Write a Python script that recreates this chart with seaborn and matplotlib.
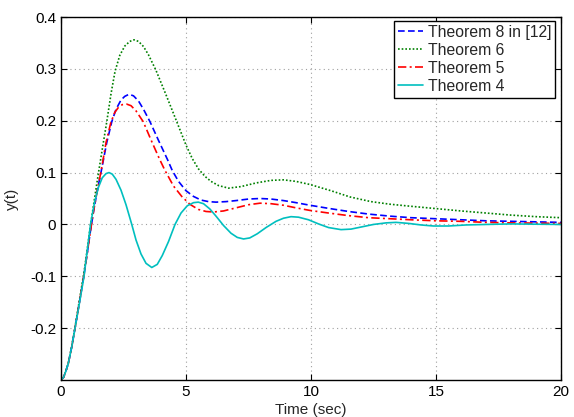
import matplotlib
matplotlib.use("Agg")
import matplotlib.pyplot as plt
import seaborn as sns
import pandas as pd

# ---- data ----
t_thm8 = [0, 0.1, 0.2, 0.29, 0.43, 0.56, 0.75, 0.92, 1.05, 1.17, 1.3, 1.45, 1.63, 1.83, 2.03,
          2.2, 2.4, 2.55, 2.72, 2.9, 3.1, 3.3, 3.56, 3.9, 4.26, 4.45, 4.7, 5.0, 5.3, 5.6, 5.9,
          6.2, 6.6, 7.0, 7.5, 7.96, 8.4, 8.9, 9.4, 9.96, 10.7, 11.5, 12.3, 13.16, 14, 15, 16,
          17, 18, 19, 20]
y_thm8 = [-0.3, -0.295, -0.282, -0.268, -0.236, -0.2, -0.146, -0.097, -0.055, -0.015, 0.025,
          0.065, 0.108, 0.158, 0.198, 0.222, 0.240, 0.247, 0.251, 0.248, 0.238, 0.222, 0.198,
          0.162, 0.125, 0.104, 0.083, 0.065, 0.054, 0.047, 0.044, 0.043, 0.044, 0.046, 0.049,
          0.05, 0.049, 0.046, 0.042, 0.037, 0.031, 0.025, 0.02, 0.016, 0.013, 0.011, 0.009,
          0.007, 0.006, 0.005, 0.004]

t_thm6 = [0, 0.1, 0.2, 0.29, 0.43, 0.56, 0.75, 0.92, 1.05, 1.17, 1.3, 1.5, 1.66, 1.83, 2.0,
          2.16, 2.35, 2.55, 2.75, 2.92, 3.1, 3.3, 3.5, 3.8, 4.2, 4.63, 5.0, 5.25, 5.5, 5.75,
          6.0, 6.3, 6.7, 7.2, 7.8, 8.4, 8.9, 9.4, 9.96, 10.8, 11.56, 12.4, 13.16, 14, 14.9,
          16, 17, 18, 19, 20]
y_thm6 = [-0.3, -0.295, -0.282, -0.268, -0.235, -0.198, -0.142, -0.092, -0.048, -0.005,
          0.037, 0.1, 0.148, 0.198, 0.252, 0.295, 0.326, 0.344, 0.353, 0.356, 0.353, 0.343,
          0.327, 0.297, 0.25, 0.198, 0.153, 0.127, 0.107, 0.093, 0.083, 0.075, 0.07, 0.073,
          0.08, 0.085, 0.086, 0.083, 0.077, 0.065, 0.053, 0.044, 0.039, 0.035, 0.031, 0.026,
          0.022, 0.018, 0.015, 0.013]

t_thm5 = [0, 0.1, 0.2, 0.29, 0.43, 0.56, 0.75, 0.92, 1.05, 1.17, 1.3, 1.45, 1.63, 1.8, 1.99,
          2.15, 2.3, 2.45, 2.63, 2.8, 3.0, 3.29, 3.6, 3.94, 4.16, 4.5, 4.83, 5.15, 5.49, 5.8,
          6.1, 6.5, 7.0, 7.5, 7.96, 8.4, 8.9, 9.4, 9.96, 10.7, 11.5, 12.3, 13.16, 14, 15, 16,
          17, 18, 19, 20]
y_thm5 = [-0.3, -0.295, -0.282, -0.268, -0.236, -0.2, -0.146, -0.097, -0.055, -0.015, 0.025,
          0.065, 0.11, 0.158, 0.196, 0.216, 0.226, 0.231, 0.232, 0.229, 0.219, 0.198, 0.163,
          0.126, 0.104, 0.074, 0.054, 0.039, 0.029, 0.025, 0.024, 0.026, 0.032, 0.038, 0.041,
          0.04, 0.037, 0.032, 0.027, 0.022, 0.017, 0.013, 0.011, 0.009, 0.007, 0.006, 0.004,
          0.003, 0.0025, 0.002]

t_thm4 = [0, 0.1, 0.2, 0.29, 0.43, 0.56, 0.75, 0.92, 1.05, 1.18, 1.35, 1.5, 1.65, 1.8, 1.92,
          2.05, 2.2, 2.4, 2.6, 2.83, 3.0, 3.2, 3.4, 3.63, 3.85, 4.05, 4.3, 4.56, 4.8, 5.05,
          5.3, 5.49, 5.7, 5.95, 6.2, 6.5, 6.8, 7.05, 7.3, 7.55, 7.85, 8.2, 8.6, 8.9, 9.2, 9.5,
          9.9, 10.3, 10.7, 11.2, 11.6, 12.0, 12.5, 13.0, 13.4, 13.9, 14.4, 14.9, 15.5, 16.2,
          17, 18, 19, 20]
y_thm4 = [-0.3, -0.295, -0.282, -0.268, -0.236, -0.2, -0.148, -0.1, -0.05, 0.0, 0.045,
          0.072, 0.09, 0.098, 0.1, 0.097, 0.087, 0.066, 0.038, 0.0, -0.03, -0.057, -0.075,
          -0.083, -0.077, -0.06, -0.033, 0.0, 0.022, 0.036, 0.042, 0.043, 0.04, 0.03, 0.016,
          -0.002, -0.017, -0.025, -0.028, -0.026, -0.018, -0.006, 0.006, 0.012, 0.015, 0.014,
          0.009, 0.001, -0.006, -0.01, -0.009, -0.005, 0.0, 0.003, 0.004, 0.002, -0.001,
          -0.003, -0.003, -0.001, 0.0, 0.001, 0.0005, 0.0]

labels = ["Theorem 8 in [12]", "Theorem 6", "Theorem 5", "Theorem 4"]
x_ticks = [0, 5, 10, 15, 20]
y_ticks = [-0.2, -0.1, 0, 0.1, 0.2, 0.3, 0.4]

series = [(t_thm8, y_thm8), (t_thm6, y_thm6), (t_thm5, y_thm5), (t_thm4, y_thm4)]
colors = ["#0000ff", "#008000", "#ff0000", "#00bfbf"]
styles = [(0, (4, 2)), (0, (1, 1.2)), (0, (5, 2, 1.2, 2)), "-"]

sns.set_style("white")
plt.rcParams["font.family"] = ["Liberation Sans", "DejaVu Sans"]

fig = plt.figure(figsize=(5.74, 4.17), dpi=100)
ax = fig.add_axes([0.1063, 0.0887, 0.8711, 0.8705])

for (tt, yy), lab, c, ls in zip(series, labels, colors, styles):
    df = pd.DataFrame({"t": tt, "y": yy})
    sns.lineplot(data=df, x="t", y="y", ax=ax, color=c, label=lab, linewidth=1.2,
                 linestyle=ls, sort=False)

ax.set_xlim(0, 20)
ax.set_ylim(-0.3, 0.4)
ax.set_xticks(x_ticks)
ax.set_yticks(y_ticks)
ax.set_xticklabels([str(v) for v in x_ticks])
ax.set_yticklabels([f"{v:g}" for v in y_ticks])
ax.grid(True, color="#a0a0a0", linestyle=(0, (1, 3)), linewidth=0.8)
ax.tick_params(direction="in", length=4, width=0.8, labelsize=11, colors="black",
               top=True, right=True, bottom=True, left=True)
for sp in ax.spines.values():
    sp.set_color("black")
    sp.set_linewidth(1.0)
ax.set_xlabel("Time (sec)", fontsize=11, labelpad=3)
ax.set_ylabel("y(t)", fontsize=11, labelpad=8)

leg = ax.legend(loc="upper right", bbox_to_anchor=(0.988, 0.99), fontsize=11.3, frameon=True,
                fancybox=False, framealpha=1, edgecolor="black", handlelength=1.6,
                handletextpad=0.3, borderpad=0.25, labelspacing=0.2, borderaxespad=0)
leg.get_frame().set_linewidth(1.0)

fig.savefig("out.png", dpi=100)
